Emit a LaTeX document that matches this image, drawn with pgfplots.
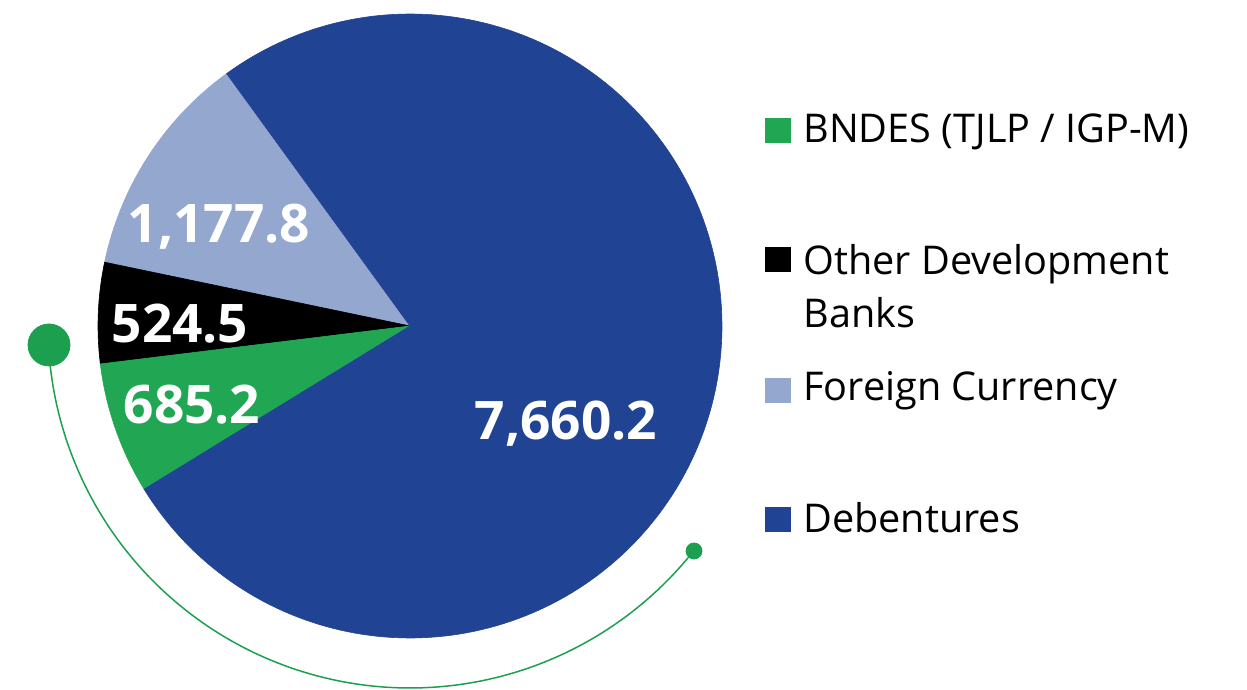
\documentclass[border=0pt]{standalone}
\usepackage{pgfplots}
\pgfplotsset{compat=1.18}
\usepackage{fontspec}
\setmainfont{Open Sans}
\definecolor{cDeb}{RGB}{33,67,148}
\definecolor{cFor}{RGB}{148,167,207}
\definecolor{cOth}{RGB}{0,0,0}
\definecolor{cBN}{RGB}{33,167,83}
\definecolor{cDot}{RGB}{28,160,80}
% data
\def\vBN{685.2}
\def\vOth{524.5}
\def\vFor{1177.8}
\def\vDeb{7660.2}
\begin{document}
\begin{tikzpicture}
\pgfmathsetmacro\tot{\vBN+\vOth+\vFor+\vDeb}
\pgfmathsetmacro\aA{126}
\pgfmathsetmacro\aB{\aA+360*(\vFor/\tot)}
\pgfmathsetmacro\aC{\aB+360*(\vOth/\tot)}
\pgfmathsetmacro\aD{\aC+360*(\vBN/\tot)}
\pgfmathsetmacro\aE{\aD+360*(\vDeb/\tot)}
\def\cx{410}\def\cy{364}\def\R{312}
\begin{axis}[
  width=623.5pt, height=345pt, scale only axis,
  xmin=0, xmax=1247, ymin=0, ymax=690,
  hide axis, clip=false,
]
\addplot[fill=cFor, draw=cFor, line width=0.3pt, domain=\aA:\aB, samples=40, variable=\t]
  ({\cx+\R*cos(\t)},{\cy+\R*sin(\t)}) -- (axis cs:\cx,\cy) -- cycle;
\addplot[fill=cOth, draw=cOth, line width=0.3pt, domain=\aB:\aC, samples=30, variable=\t]
  ({\cx+\R*cos(\t)},{\cy+\R*sin(\t)}) -- (axis cs:\cx,\cy) -- cycle;
\addplot[fill=cBN, draw=cBN, line width=0.3pt, domain=\aC:\aD, samples=30, variable=\t]
  ({\cx+\R*cos(\t)},{\cy+\R*sin(\t)}) -- (axis cs:\cx,\cy) -- cycle;
\addplot[fill=cDeb, draw=cDeb, line width=0.3pt, domain=\aD:\aE, samples=200, variable=\t]
  ({\cx+\R*cos(\t)},{\cy+\R*sin(\t)}) -- (axis cs:\cx,\cy) -- cycle;
% decorative arc and dots
\addplot[cDot, line width=0.75pt, domain=183:321.6, samples=150, variable=\t]
  ({\cx+362*cos(\t)},{\cy+362*sin(\t)});
\addplot[only marks, mark=*, mark size=10.5pt, color=cDot] coordinates {(49,345)};
\addplot[only marks, mark=*, mark size=4pt, color=cDot] coordinates {(694,139)};
% value labels
\begin{scope}[every node/.style={font=\bfseries\fontsize{26.6}{30}\selectfont, text=white, inner sep=0, anchor=base}]
\node at (axis cs:566,250) {7,660.2};
\node at (axis cs:219,447) {1,177.8};
\node at (axis cs:180,347) {524.5};
\node at (axis cs:192,266) {685.2};
\end{scope}
% legend
\begin{scope}[every node/.style={inner sep=0}]
\node[fill=cBN, minimum width=13pt, minimum height=12.5pt] at (axis cs:778,559) {};
\node[fill=cOth, minimum width=13pt, minimum height=12.5pt] at (axis cs:778,430) {};
\node[fill=cFor, minimum width=13pt, minimum height=12.5pt] at (axis cs:778,299) {};
\node[fill=cDeb, minimum width=13pt, minimum height=12.5pt] at (axis cs:778,170) {};
\end{scope}
\begin{scope}[every node/.style={inner sep=0, anchor=base west, font=\fontsize{19.8}{24}\selectfont}]
\node at (axis cs:803,547) {BNDES (TJLP / IGP-M)};
\node at (axis cs:803,415) {Other Development};
\node at (axis cs:803,362) {Banks};
\node at (axis cs:803,289) {Foreign Currency};
\node at (axis cs:803,157) {Debentures};
\end{scope}
\end{axis}
\pgfresetboundingbox
\path[use as bounding box] (current axis.south west) rectangle (current axis.north east);
\end{tikzpicture}
\end{document}
